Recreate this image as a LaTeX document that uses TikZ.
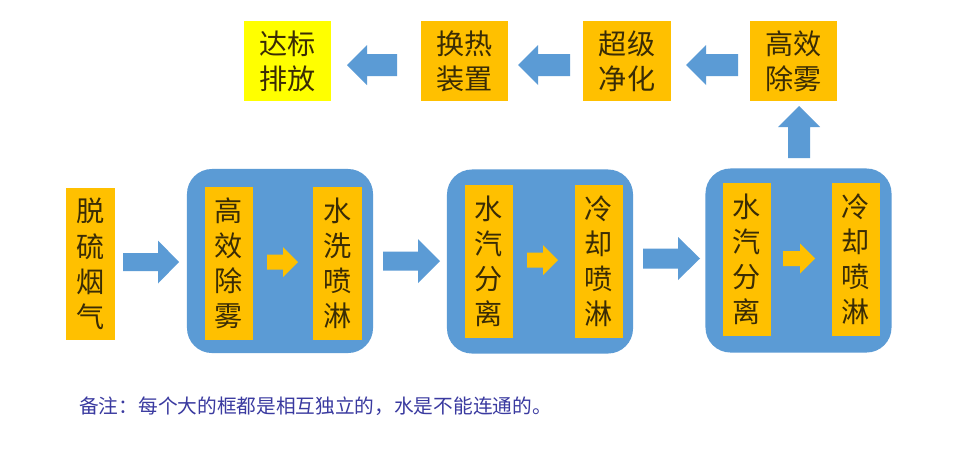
\documentclass[tikz,border=0pt]{standalone}
\usepackage{fontspec}
\newfontfamily\cjk{Noto Sans CJK SC}
\definecolor{orng}{HTML}{FFC000}
\definecolor{ylw}{HTML}{FFFF00}
\definecolor{blu}{HTML}{5B9BD5}
\definecolor{txt}{HTML}{3A2C05}
\definecolor{notec}{HTML}{3A3AA0}
\newcommand\boxfont{\cjk\fontsize{20}{25}\selectfont}
\newcommand\rarr[7]{\fill[#1] (#2,{#4-#5}) -- ({#3-(#7)},{#4-#5}) -- ({#3-(#7)},{#4-#6}) -- (#3,#4) -- ({#3-(#7)},{#4+#6}) -- ({#3-(#7)},{#4+#5}) -- (#2,{#4+#5}) -- cycle;}
\tikzset{
  obox/.style={fill=orng, inner sep=0pt, align=center, font=\boxfont, text=txt},
  topbox/.style={obox, minimum width=2.175cm, minimum height=2cm},
  tallbox/.style={obox, minimum width=1.2cm, minimum height=3.8cm},
  bigbox/.style={fill=blu, rounded corners=0.625cm, minimum width=4.65cm, minimum height=4.6cm, inner sep=0pt},
}
\begin{document}
\begin{tikzpicture}[x=0.025cm,y=-0.025cm]
\useasboundingbox[fill=white] (0,0) rectangle (966,449);
% top row
\node[topbox, fill=ylw] (t1) at (287.5,61) {达标\\排放};
\node[topbox] (t2) at (464.5,61) {换热\\装置};
\node[topbox] (t3) at (627,61) {超级\\净化};
\node[topbox] (t4) at (793.5,61) {高效\\除雾};
\rarr{blu}{397}{347}{65}{11}{20}{-20}
\rarr{blu}{570}{518}{65}{11}{20}{-20}
\rarr{blu}{738}{686}{65}{11}{20}{-20}
% up arrow
\fill[blu] (788,158) -- (788,127) -- (778,127) -- (799,106) -- (820,127) -- (810,127) -- (810,158) -- cycle;
% input
\node[tallbox] (in) at (90.5,264) {脱\\硫\\烟\\气};
% big boxes
\node[bigbox] (B1) at (280,261) {};
\node[bigbox] (B2) at (540,261.5) {};
\node[bigbox] (B3) at (798.5,260.5) {};
\node[tallbox] (b1a) at (229,263.5) {高\\效\\除\\雾};
\node[tallbox] (b1b) at (337.5,263.5) {水\\洗\\喷\\淋};
\node[tallbox] (b2a) at (489,261.5) {水\\汽\\分\\离};
\node[tallbox] (b2b) at (599,261.5) {冷\\却\\喷\\淋};
\node[tallbox] (b3a) at (747,259.5) {水\\汽\\分\\离};
\node[tallbox] (b3b) at (856,259.5) {冷\\却\\喷\\淋};
% big arrows
\rarr{blu}{123}{179}{262}{9}{21.5}{21}
\rarr{blu}{383}{440}{261}{9.5}{22}{22}
\rarr{blu}{643}{700}{258.5}{10}{21.5}{22}
% small arrows
\rarr{orng}{267}{298}{262}{7.5}{15}{15}
\rarr{orng}{527}{558}{260}{7.5}{15}{15}
\rarr{orng}{783}{815}{258.5}{7.5}{15}{15}
% note
\node[anchor=west, inner sep=0pt, text=notec, font=\cjk\fontsize{14}{16}\selectfont] (note) at (79,406) {备注：每个大的框都是相互独立的，水是不能连通的。};
\end{tikzpicture}
\end{document}
